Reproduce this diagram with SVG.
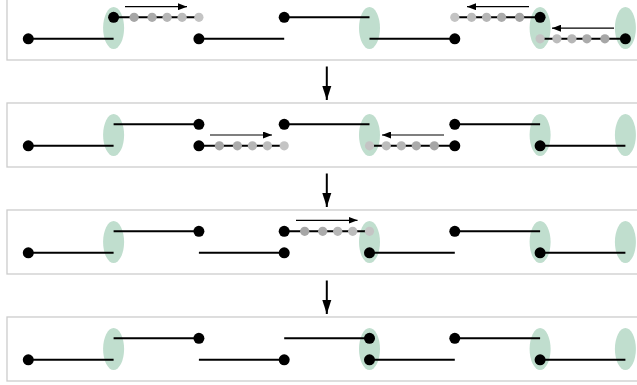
<svg xmlns="http://www.w3.org/2000/svg" width="637" height="385" viewBox="0 0 637 385">
  <style>
    .panel { fill: #ffffff; stroke: #cccccc; stroke-width: 1.3; }
    .zone { fill: #c0dece; }
    .seg { stroke: #000000; stroke-width: 2; fill: none; }
    .dot { fill: #000000; }
    .g1 { fill: #a6a6a6; }
    .g2 { fill: #ababab; }
    .g3 { fill: #b6b6b6; }
    .g4 { fill: #bcbcbc; }
    .g5 { fill: #c4c4c4; }
    .move { stroke: #000000; stroke-width: 1.2; fill: none; marker-end: url(#small-head); }
    .step { stroke: #000000; stroke-width: 2; fill: none; marker-end: url(#big-head); }
  </style>
  <defs>
    <marker id="small-head" markerUnits="userSpaceOnUse" markerWidth="9" markerHeight="7" refX="9" refY="3.5" orient="auto">
      <path d="M0,0 L9,3.5 L0,7 z" fill="#000"/>
    </marker>
    <marker id="big-head" markerUnits="userSpaceOnUse" markerWidth="14" markerHeight="10" refX="14" refY="5" orient="auto">
      <path d="M0,0.5 L14,5 L0,9.5 z" fill="#000"/>
    </marker>
    <!-- shared panel background with its four green zones -->
    <g id="frame">
      <rect class="panel" x="7" y="0" width="640" height="64"/>
      <ellipse class="zone" cx="113.6" cy="32" rx="10.5" ry="21"/>
      <ellipse class="zone" cx="369.5" cy="32" rx="10.5" ry="21"/>
      <ellipse class="zone" cx="540.1" cy="32" rx="10.5" ry="21"/>
      <ellipse class="zone" cx="625.4" cy="32" rx="10.5" ry="21"/>
    </g>
  </defs>

  <!-- stage 1 -->
  <g id="stage1" transform="translate(0,-4)">
    <use href="#frame"/>
    <g id="s1-a"><line class="seg" x1="28.3" y1="42.8" x2="113.6" y2="42.8"/><circle class="dot" cx="28.3" cy="42.8" r="5.5"/></g>
    <g id="s1-b">
      <line class="seg" x1="113.6" y1="21.3" x2="198.9" y2="21.3"/>
      <circle class="g1" cx="134.1" cy="21.3" r="4.6"/><circle class="g2" cx="152.1" cy="21.3" r="4.6"/>
      <circle class="g3" cx="167.1" cy="21.3" r="4.6"/><circle class="g4" cx="182.1" cy="21.3" r="4.6"/>
      <circle class="g5" cx="198.9" cy="21.3" r="4.6"/>
      <circle class="dot" cx="113.6" cy="21.3" r="5.5"/>
      <line class="move" x1="125" y1="10.7" x2="187" y2="10.7"/>
    </g>
    <g id="s1-c"><line class="seg" x1="198.9" y1="42.8" x2="284.2" y2="42.8"/><circle class="dot" cx="198.9" cy="42.8" r="5.5"/></g>
    <g id="s1-d"><line class="seg" x1="284.2" y1="21.3" x2="369.5" y2="21.3"/><circle class="dot" cx="284.2" cy="21.3" r="5.5"/></g>
    <g id="s1-e"><line class="seg" x1="369.5" y1="42.8" x2="454.8" y2="42.8"/><circle class="dot" cx="454.8" cy="42.8" r="5.5"/></g>
    <g id="s1-f">
      <line class="seg" x1="454.8" y1="21.3" x2="540.1" y2="21.3"/>
      <circle class="g5" cx="454.8" cy="21.3" r="4.6"/><circle class="g4" cx="471.6" cy="21.3" r="4.6"/>
      <circle class="g3" cx="486.6" cy="21.3" r="4.6"/><circle class="g2" cx="501.6" cy="21.3" r="4.6"/>
      <circle class="g1" cx="519.6" cy="21.3" r="4.6"/>
      <circle class="dot" cx="540.1" cy="21.3" r="5.5"/>
      <line class="move" x1="529" y1="10.7" x2="467" y2="10.7"/>
    </g>
    <g id="s1-g">
      <line class="seg" x1="540.1" y1="42.8" x2="625.4" y2="42.8"/>
      <circle class="g5" cx="540.1" cy="42.8" r="4.6"/><circle class="g4" cx="556.9" cy="42.8" r="4.6"/>
      <circle class="g3" cx="571.9" cy="42.8" r="4.6"/><circle class="g2" cx="586.9" cy="42.8" r="4.6"/>
      <circle class="g1" cx="604.9" cy="42.8" r="4.6"/>
      <circle class="dot" cx="625.4" cy="42.8" r="5.5"/>
      <line class="move" x1="614" y1="32.2" x2="552" y2="32.2"/>
    </g>
  </g>

  <!-- stage 2 -->
  <g id="stage2" transform="translate(0,103)">
    <use href="#frame"/>
    <g id="s2-a"><line class="seg" x1="28.3" y1="42.8" x2="113.6" y2="42.8"/><circle class="dot" cx="28.3" cy="42.8" r="5.5"/></g>
    <g id="s2-b"><line class="seg" x1="113.6" y1="21.3" x2="198.9" y2="21.3"/><circle class="dot" cx="198.9" cy="21.3" r="5.5"/></g>
    <g id="s2-c">
      <line class="seg" x1="198.9" y1="42.8" x2="284.2" y2="42.8"/>
      <circle class="g1" cx="219.4" cy="42.8" r="4.6"/><circle class="g2" cx="237.4" cy="42.8" r="4.6"/>
      <circle class="g3" cx="252.4" cy="42.8" r="4.6"/><circle class="g4" cx="267.4" cy="42.8" r="4.6"/>
      <circle class="g5" cx="284.2" cy="42.8" r="4.6"/>
      <circle class="dot" cx="198.9" cy="42.8" r="5.5"/>
      <line class="move" x1="210" y1="32" x2="272" y2="32"/>
    </g>
    <g id="s2-d"><line class="seg" x1="284.2" y1="21.3" x2="369.5" y2="21.3"/><circle class="dot" cx="284.2" cy="21.3" r="5.5"/></g>
    <g id="s2-e">
      <line class="seg" x1="369.5" y1="42.8" x2="454.8" y2="42.8"/>
      <circle class="g5" cx="369.5" cy="42.8" r="4.6"/><circle class="g4" cx="386.3" cy="42.8" r="4.6"/>
      <circle class="g3" cx="401.3" cy="42.8" r="4.6"/><circle class="g2" cx="416.3" cy="42.8" r="4.6"/>
      <circle class="g1" cx="434.3" cy="42.8" r="4.6"/>
      <circle class="dot" cx="454.8" cy="42.8" r="5.5"/>
      <line class="move" x1="444" y1="32" x2="382" y2="32"/>
    </g>
    <g id="s2-f"><line class="seg" x1="454.8" y1="21.3" x2="540.1" y2="21.3"/><circle class="dot" cx="454.8" cy="21.3" r="5.5"/></g>
    <g id="s2-g"><line class="seg" x1="540.1" y1="42.8" x2="625.4" y2="42.8"/><circle class="dot" cx="540.1" cy="42.8" r="5.5"/></g>
  </g>

  <!-- stage 3 -->
  <g id="stage3" transform="translate(0,210)">
    <use href="#frame"/>
    <g id="s3-a"><line class="seg" x1="28.3" y1="42.8" x2="113.6" y2="42.8"/><circle class="dot" cx="28.3" cy="42.8" r="5.5"/></g>
    <g id="s3-b"><line class="seg" x1="113.6" y1="21.3" x2="198.9" y2="21.3"/><circle class="dot" cx="198.9" cy="21.3" r="5.5"/></g>
    <g id="s3-c"><line class="seg" x1="198.9" y1="42.8" x2="284.2" y2="42.8"/><circle class="dot" cx="284.2" cy="42.8" r="5.5"/></g>
    <g id="s3-d">
      <line class="seg" x1="284.2" y1="21.3" x2="369.5" y2="21.3"/>
      <circle class="g1" cx="304.7" cy="21.3" r="4.6"/><circle class="g2" cx="322.7" cy="21.3" r="4.6"/>
      <circle class="g3" cx="337.7" cy="21.3" r="4.6"/><circle class="g4" cx="352.7" cy="21.3" r="4.6"/>
      <circle class="g5" cx="369.5" cy="21.3" r="4.6"/>
      <circle class="dot" cx="284.2" cy="21.3" r="5.5"/>
      <line class="move" x1="296" y1="10.3" x2="357.5" y2="10.3"/>
    </g>
    <g id="s3-e"><line class="seg" x1="369.5" y1="42.8" x2="454.8" y2="42.8"/><circle class="dot" cx="369.5" cy="42.8" r="5.5"/></g>
    <g id="s3-f"><line class="seg" x1="454.8" y1="21.3" x2="540.1" y2="21.3"/><circle class="dot" cx="454.8" cy="21.3" r="5.5"/></g>
    <g id="s3-g"><line class="seg" x1="540.1" y1="42.8" x2="625.4" y2="42.8"/><circle class="dot" cx="540.1" cy="42.8" r="5.5"/></g>
  </g>

  <!-- stage 4 -->
  <g id="stage4" transform="translate(0,317)">
    <use href="#frame"/>
    <g id="s4-a"><line class="seg" x1="28.3" y1="42.8" x2="113.6" y2="42.8"/><circle class="dot" cx="28.3" cy="42.8" r="5.5"/></g>
    <g id="s4-b"><line class="seg" x1="113.6" y1="21.3" x2="198.9" y2="21.3"/><circle class="dot" cx="198.9" cy="21.3" r="5.5"/></g>
    <g id="s4-c"><line class="seg" x1="198.9" y1="42.8" x2="284.2" y2="42.8"/><circle class="dot" cx="284.2" cy="42.8" r="5.5"/></g>
    <g id="s4-d"><line class="seg" x1="284.2" y1="21.3" x2="369.5" y2="21.3"/><circle class="dot" cx="369.5" cy="21.3" r="5.5"/></g>
    <g id="s4-e"><line class="seg" x1="369.5" y1="42.8" x2="454.8" y2="42.8"/><circle class="dot" cx="369.5" cy="42.8" r="5.5"/></g>
    <g id="s4-f"><line class="seg" x1="454.8" y1="21.3" x2="540.1" y2="21.3"/><circle class="dot" cx="454.8" cy="21.3" r="5.5"/></g>
    <g id="s4-g"><line class="seg" x1="540.1" y1="42.8" x2="625.4" y2="42.8"/><circle class="dot" cx="540.1" cy="42.8" r="5.5"/></g>
  </g>

  <!-- arrows between stages -->
  <g id="connectors">
    <line class="step" x1="326.8" y1="66.5" x2="326.8" y2="100"/>
    <line class="step" x1="326.8" y1="173.5" x2="326.8" y2="207"/>
    <line class="step" x1="326.8" y1="280.5" x2="326.8" y2="314"/>
  </g>
</svg>
